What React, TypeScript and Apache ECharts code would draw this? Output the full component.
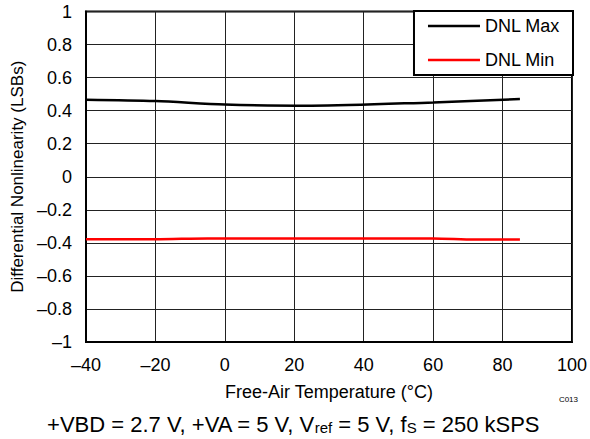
import React, { useEffect, useRef } from "react";
import * as echarts from "echarts";

const temps = [-40, -20, 0, 25, 60, 85];
const dnlMax = [0.466, 0.458, 0.437, 0.43, 0.45, 0.47];
const dnlMinTemps = [-40, -20, -5, 60, 72, 85];
const dnlMin = [-0.378, -0.378, -0.373, -0.373, -0.38, -0.38];
const seriesNames = ["DNL Max", "DNL Min"];
const xTitle = "Free-Air Temperature (°C)";
const yTitle = "Differential Nonlinearity (LSBs)";

const FONT = "Liberation Sans, Arial, sans-serif";

function fmt(v: number): string {
  const r = Math.round(v * 10) / 10;
  const s = String(r);
  return s.replace("-", "\u2013");
}

export default function App() {
  const ref = useRef<HTMLDivElement>(null);
  useEffect(() => {
    if (!ref.current) return;
    const chart = echarts.init(ref.current, undefined, { renderer: "svg" });
    chart.setOption({
      animation: false,
      backgroundColor: "#fff",
      textStyle: { fontFamily: FONT },
      grid: {
        left: 86,
        right: 17,
        top: 11.5,
        bottom: 97,
        show: true,
        borderColor: "#000",
        borderWidth: 2,
      },
      legend: {
        orient: "vertical",
        right: 17,
        top: 11,
        backgroundColor: "#fff",
        borderColor: "#000",
        borderWidth: 2,
        borderRadius: 0,
        padding: [5, 13, 5, 14],
        itemGap: 14,
        itemWidth: 52,
        itemHeight: 2.5,
        icon: "rect",
        textStyle: { fontSize: 18, color: "#000", fontFamily: FONT, lineHeight: 20 },
        data: seriesNames,
      },
      xAxis: {
        type: "value",
        min: -40,
        max: 100,
        interval: 20,
        name: xTitle,
        nameLocation: "middle",
        nameGap: 41,
        nameTextStyle: { fontSize: 18, color: "#000", fontFamily: FONT },
        axisLine: { show: true, onZero: false, lineStyle: { color: "#000", width: 2 } },
        axisTick: { show: false },
        axisLabel: {
          fontSize: 18,
          color: "#000",
          margin: 14,
          fontFamily: FONT,
          formatter: (v: number) => fmt(v),
        },
        splitLine: { show: true, lineStyle: { color: "#222", width: 1 } },
      },
      yAxis: {
        type: "value",
        min: -1,
        max: 1,
        interval: 0.2,
        name: yTitle,
        nameLocation: "middle",
        nameGap: 60,
        nameTextStyle: { fontSize: 17, color: "#000", fontFamily: FONT },
        axisLine: { show: true, onZero: false, lineStyle: { color: "#000", width: 2 } },
        axisTick: { show: false },
        axisLabel: {
          fontSize: 18,
          color: "#000",
          margin: 14,
          fontFamily: FONT,
          formatter: (v: number) => fmt(v),
        },
        splitLine: { show: true, lineStyle: { color: "#222", width: 1 } },
      },
      series: [
        {
          name: seriesNames[0],
          type: "line",
          data: temps.map((t, i) => [t, dnlMax[i]]),
          showSymbol: false,
          symbol: "none",
          smooth: 0.3,
          lineStyle: { color: "#000", width: 2.5 },
          itemStyle: { color: "#000" },
        },
        {
          name: seriesNames[1],
          type: "line",
          data: dnlMinTemps.map((t, i) => [t, dnlMin[i]]),
          showSymbol: false,
          symbol: "none",
          smooth: 0.3,
          lineStyle: { color: "#ff0000", width: 2.5 },
          itemStyle: { color: "#ff0000" },
        },
      ],
      graphic: [
        {
          type: "text",
          x: 293,
          y: 423,
          style: {
            text: "{a|+VBD = 2.7 V, +VA = 5 V, V}{s|ref}{a| = 5 V, f}{s|S}{a| = 250 kSPS}",
            align: "center",
            verticalAlign: "middle",
            fill: "#000",
            rich: {
              a: { fontSize: 22, fontFamily: FONT, fill: "#000", lineHeight: 24, verticalAlign: "bottom" },
              s: { fontSize: 15, fontFamily: FONT, fill: "#000", lineHeight: 6, verticalAlign: "bottom" },
            },
          },
        },
        {
          type: "text",
          x: 578,
          y: 399,
          style: {
            text: "C013",
            align: "right",
            verticalAlign: "middle",
            fontSize: 8,
            fontFamily: FONT,
            fill: "#000",
          },
        },
      ],
    });
    return () => chart.dispose();
  }, []);
  return (
    <div
      ref={ref}
      style={{ position: "absolute", left: 0, top: 0, width: 590, height: 439 }}
    />
  );
}
